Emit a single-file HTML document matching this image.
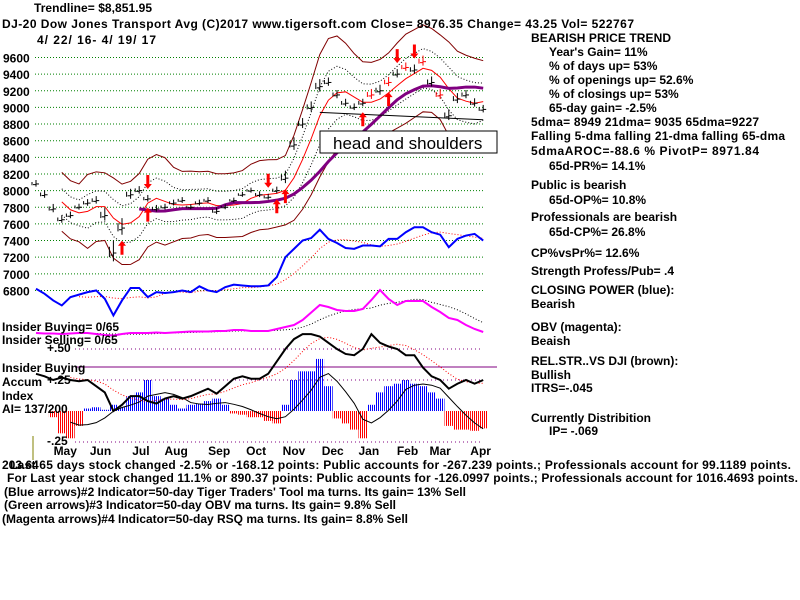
<!DOCTYPE html>
<html><head><meta charset="utf-8"><style>
html,body{margin:0;padding:0;background:#fff;width:800px;height:600px;overflow:hidden}
svg text{font-family:"Liberation Sans",sans-serif;font-weight:bold;font-size:12px;fill:#000}
</style></head><body>
<svg id="c" width="800" height="600" xmlns="http://www.w3.org/2000/svg">
<defs>
<pattern id="bs" width="2" height="4" patternUnits="userSpaceOnUse"><rect width="1" height="4" fill="#0000ff"/></pattern>
<pattern id="rs" width="2" height="4" patternUnits="userSpaceOnUse"><rect width="1" height="4" fill="#ff0000"/></pattern>
</defs>
<g id="grid"></g>
<g id="marks"></g>
<g id="txt">
<text x="34" y="12" textLength="118">Trendline= $8,851.95</text>
<text x="2" y="28" textLength="632">DJ-20   Dow Jones Transport Avg   (C)2017 www.tigersoft.com     Close=  8976.35   Change= 43.25 Vol= 522767</text>
<text x="37" y="44" textLength="119">4/ 22/ 16- 4/ 19/ 17</text>
<text x="531" y="42" textLength="140">BEARISH PRICE TREND</text>
<text x="549" y="56">Year's Gain= 11%</text>
<text x="549" y="70">% of days up= 53%</text>
<text x="549" y="84">% of openings up= 52.6%</text>
<text x="549" y="98">% of closings up= 53%</text>
<text x="549" y="112">65-day gain= -2.5%</text>
<text x="531" y="126" textLength="228">5dma= 8949 21dma= 9035 65dma=9227</text>
<text x="531" y="140" textLength="254">Falling 5-dma  falling 21-dma  falling 65-dma</text>
<text x="531" y="155" textLength="228">5dmaAROC=-88.6 %  PivotP= 8971.84</text>
<text x="549" y="170">65d-PR%= 14.1%</text>
<text x="531" y="189">Public is bearish</text>
<text x="549" y="204">65d-OP%= 10.8%</text>
<text x="531" y="221">Professionals are bearish</text>
<text x="549" y="236">65d-CP%= 26.8%</text>
<text x="531" y="257">CP%vsPr%=  12.6%</text>
<text x="531" y="275">Strength Profess/Pub= .4</text>
<text x="531" y="294">CLOSING POWER (blue):</text>
<text x="531" y="308">Bearish</text>
<text x="531" y="331">OBV (magenta):</text>
<text x="531" y="345">Beaish</text>
<text x="531" y="365">REL.STR..VS DJI (brown):</text>
<text x="531" y="379">Bullish</text>
<text x="531" y="392">ITRS=-.045</text>
<text x="531" y="422">Currently Distribition</text>
<text x="549" y="435">IP= -.069</text>
<text x="2" y="331">Insider Buying= 0/65</text>
<text x="2" y="344">Insider Selling= 0/65</text>
<text x="47" y="352">+.50</text>
<text x="2" y="372">Insider Buying</text>
<text x="2" y="386">Accum</text>
<text x="47" y="384">+.25</text>
<text x="2" y="400">Index</text>
<text x="2" y="413">AI= 137/200</text>
<text x="47" y="445">-.25</text>
<text x="2" y="469">203.64</text>
<text x="10" y="469" textLength="781">Last 65 days stock changed -2.5% or -168.12 points:  Public accounts for -267.239 points.;  Professionals account for  99.1189 points.</text>
<text x="7" y="482" textLength="791">For Last year stock changed  11.1% or  890.37 points:  Public accounts for -126.0997 points.;  Professionals account for  1016.4693 points.</text>
<text x="4" y="496" textLength="462">(Blue arrows)#2 Indicator=50-day Tiger Traders' Tool ma turns. Its gain= 13% Sell</text>
<text x="4" y="509" textLength="392">(Green arrows)#3 Indicator=50-day OBV ma turns. Its gain= 9.8% Sell</text>
<text x="2" y="523" textLength="406">(Magenta arrows)#4 Indicator=50-day RSQ ma turns. Its gain= 8.8% Sell</text>
</g>
<g>
<rect x="320" y="131" width="177" height="22" fill="#fff" stroke="#000"/>
<text x="333" y="149" style="font-size:17px;font-weight:normal">head and shoulders</text>
</g>
</svg>
<script>
const months=["May","Jun","Jul","Aug","Sep","Oct","Nov","Dec","Jan","Feb","Mar","Apr"];
const monthIdx=[3.4,7.5,12.2,16.3,21.3,25.6,30,34.5,38.7,43.2,47,51.7];
const priceTicks=[9600,9400,9200,9000,8800,8600,8400,8200,8000,7800,7600,7400,7200,7000,6800];
const closes=[8080,7950,7780,7650,7700,7800,7850,7880,7700,7250,7550,7950,8000,7900,7780,7800,7850,7880,7800,7850,7880,7750,7800,7880,7950,8000,7950,7920,8000,8150,8550,8800,9000,9250,9300,9150,9050,9000,9050,9150,9200,9300,9400,9480,9450,9550,9300,9150,8900,9100,9150,9050,8976];
const ranges=[80,90,100,90,80,70,80,90,150,250,200,120,90,80,80,70,70,70,60,70,70,80,60,60,60,60,70,70,80,150,150,120,120,150,100,100,90,80,90,120,120,110,100,100,110,120,120,120,130,120,100,100,90];
const closingPower=[6820,6760,6680,6620,6720,6750,6780,6800,6700,6500,6680,6830,6830,6720,6780,6770,6780,6800,6780,6850,6800,6780,6840,6870,6860,6850,6850,6860,6960,7200,7300,7400,7430,7530,7420,7370,7310,7300,7340,7340,7330,7420,7420,7500,7560,7560,7500,7470,7320,7420,7460,7480,7400];
const obv=[14,13,13,12,13,14,14,12,10,9,12,14,14,14,15,14,15,16,17,17,17,18,18,20,20,18,18,18,22,26,30,40,55,70,66,60,58,58,62,80,100,82,70,78,78,78,66,56,44,40,30,22,16];
const accum=[0,0,-0.05,-0.18,-0.22,-0.12,0.02,0.03,0.01,0.05,0.03,0.12,0.15,0.25,0.12,0.1,0.05,0.02,0.05,0.06,0.08,0.1,0.05,-0.02,-0.03,-0.05,-0.05,-0.08,-0.1,0.05,0.25,0.32,0.32,0.42,0.2,-0.06,-0.1,-0.15,-0.22,0.05,0.15,0.2,0.22,0.25,0.22,0.2,0.15,0.1,-0.12,-0.15,-0.15,-0.16,-0.14];
const relStr=[0.3,0.28,0.25,0.27,0.25,0.24,0.25,0.2,0.15,0.0,0.05,0.12,0.12,0.08,0.06,0.1,0.12,0.1,0.12,0.15,0.18,0.14,0.2,0.26,0.28,0.26,0.26,0.3,0.4,0.5,0.58,0.62,0.62,0.6,0.55,0.5,0.46,0.45,0.5,0.62,0.55,0.52,0.5,0.45,0.45,0.35,0.28,0.25,0.18,0.22,0.25,0.22,0.25];
const upArrows=[10,13,28,29,38,41];
const downArrows=[13,27,42,44];
const trendline=[8940,8852];
const trendIdx=[33,52];

const NS="http://www.w3.org/2000/svg";
const X=i=>36+i*8.6;
const Y=v=>57.5+(9600-v)*16.64/200;
const OY=v=>340-v*0.5;
const AY=v=>411-v*124;
function mk(tag,attrs,parent){const e=document.createElementNS(NS,tag);for(const k in attrs)e.setAttribute(k,attrs[k]);parent.appendChild(e);return e;}
const grid=document.getElementById('grid'),m=document.getElementById('marks');
priceTicks.forEach(t=>{
 const l=mk('line',{x1:35,x2:483,y1:Y(t),y2:Y(t),stroke:'#008000','stroke-dasharray':'1,2'},grid);
 
 
 const tx=mk('text',{x:3,y:Y(t)+5},grid);tx.textContent=t;
 
 
});
[0.5,0.25,-0.25].forEach(v=>{const l=mk('line',{x1:75,x2:483,y1:AY(v),y2:AY(v),stroke:'#800080','stroke-dasharray':'1,3'},grid);
 
 });
const ref=mk('line',{x1:75,x2:497,y1:367,y2:367,stroke:'#800080'},grid);


const vt=mk('line',{x1:33,x2:33,y1:436,y2:460,stroke:'#808000'},grid);


months.forEach((mo,k)=>{const t=mk('text',{x:X(monthIdx[k]),y:455,'text-anchor':'middle'},grid);t.textContent=mo;
 
 });
function ma(arr,n){return arr.map((v,i)=>{if(i<n-1)return null;let s=0;for(let j=i-n+1;j<=i;j++)s+=arr[j];return s/n;});}
function sd(arr,n){const a=ma(arr,n);return arr.map((v,i)=>{if(a[i]==null)return null;let s=0;for(let j=i-n+1;j<=i;j++)s+=(arr[j]-a[i])**2;return Math.sqrt(s/n);});}
function poly(vals,fy,attrs,name){const pts=vals.map((v,i)=>v==null?null:X(i)+','+fy(v)).filter(p=>p);const p=mk('polyline',Object.assign({points:pts.join(' '),fill:'none'},attrs),m);
 
 return p;}
accum.forEach((v,i)=>{if(!v)return;const y0=AY(0),y1=AY(v);const r=mk('rect',{x:X(i)-4.3,width:8.6,y:Math.min(y0,y1),height:Math.abs(y1-y0),fill:v>0?'url(#bs)':'url(#rs)'},m);
 
 });
poly(ma(accum,5),AY,{stroke:'#000','stroke-width':1},'accum-ma');
poly(ma(relStr,5),AY,{stroke:'#f00','stroke-dasharray':'1,2'},'relstr-ma');
poly(relStr,AY,{stroke:'#000','stroke-width':2},'relstr-line');
poly(ma(obv,6),OY,{stroke:'#000','stroke-dasharray':'1,2'},'obv-ma');
poly(obv,OY,{stroke:'#ff00ff','stroke-width':2},'obv-line');
poly(ma(closingPower,6),Y,{stroke:'#f00','stroke-dasharray':'1,2'},'cp-ma');
poly(closingPower,Y,{stroke:'#0000ff','stroke-width':2},'closing-power-line');
const m21=ma(closes,4),m65=ma(closes,13),s21=sd(closes,7);
poly(m21.map((v,i)=>v&&v*1.045+0.7*s21[i]),Y,{stroke:'#800000'},'upper-band');
poly(m21.map((v,i)=>v&&v*0.955-0.7*s21[i]),Y,{stroke:'#800000'},'lower-band');
poly(m21.map((v,i)=>v&&v*1.02+0.35*s21[i]),Y,{stroke:'#000','stroke-dasharray':'1,2'},'upper-dotted-band');
poly(m21.map((v,i)=>v&&v*0.98-0.35*s21[i]),Y,{stroke:'#000','stroke-dasharray':'1,2'},'lower-dotted-band');
poly(m21,Y,{stroke:'#f00'},'ma-21');
poly(m65,Y,{stroke:'#800080','stroke-width':3},'ma-65');
closes.forEach((c,i)=>{const r=ranges[i];const col=(i>=39&&i<=48&&i%2)?'#f00':'#000';
 const g=mk('g',{stroke:col},m);
 
 
 mk('line',{x1:X(i),x2:X(i),y1:Y(c+r*0.6),y2:Y(c-r*0.4)},g);
 mk('line',{x1:X(i),x2:X(i)+3,y1:Y(c),y2:Y(c)},g);
 mk('line',{x1:X(i)-3,x2:X(i),y1:Y(c-r*0.1),y2:Y(c-r*0.1)},g);
 mk('line',{x1:X(i)-4,x2:X(i)-4,y1:Y(c+r*0.3),y2:Y(c-r*0.2)},g);
});
const tl=mk('line',{x1:X(trendIdx[0]),x2:X(trendIdx[1]),y1:Y(trendline[0]),y2:Y(trendline[1]),stroke:'#000'},m);


upArrows.forEach(i=>{const y=Y(closes[i]-ranges[i]*0.4)+6;const a=mk('path',{d:`M${X(i)-1.5},${y+14}V${y+5}H${X(i)-4}L${X(i)},${y}L${X(i)+4},${y+5}H${X(i)+1.5}V${y+14}Z`,fill:'#f00'},m);
 
 });
downArrows.forEach(i=>{const y=Y(closes[i]+ranges[i]*0.6)-6;const a=mk('path',{d:`M${X(i)-1.5},${y-14}V${y-5}H${X(i)-4}L${X(i)},${y}L${X(i)+4},${y-5}H${X(i)+1.5}V${y-14}Z`,fill:'#f00'},m);
 
 });
</script>
</body></html>
